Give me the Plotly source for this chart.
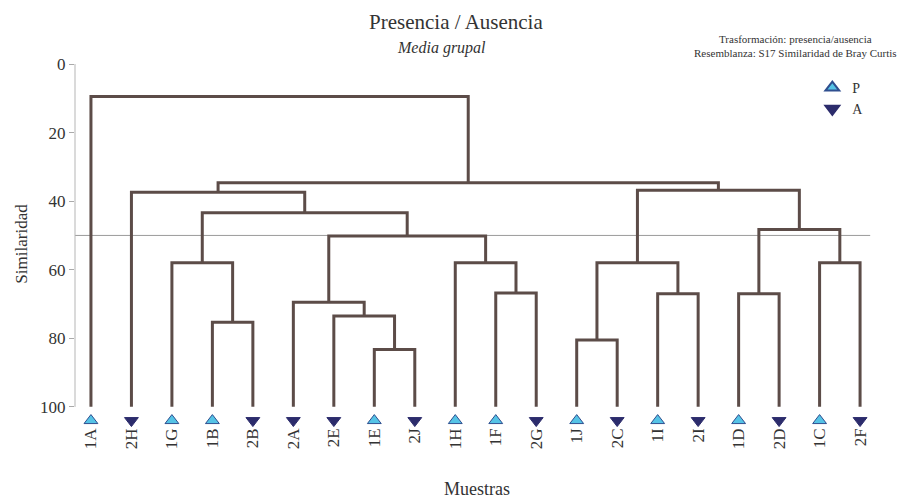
import plotly.graph_objects as go

# muestras en el orden del dendrograma
leaves = ["1A", "2H", "1G", "1B", "2B", "2A", "2E", "1E", "2J", "1H",
          "1F", "2G", "1J", "2C", "1I", "2I", "1D", "2D", "1C", "2F"]
groups = ["P", "A", "P", "P", "A", "A", "A", "P", "A", "P",
          "P", "A", "P", "A", "P", "A", "P", "A", "P", "A"]

# uniones (indices estilo scipy: hojas 0-19, grupos 20+)
merge_left = [7, 12, 3, 6, 5, 14, 16, 10, 2, 9, 21, 18, 24, 26, 28, 1, 30, 35, 0]
merge_right = [8, 13, 4, 20, 23, 15, 17, 11, 22, 27, 25, 19, 29, 31, 32, 34, 33, 36, 37]
merge_sim = [83.3, 80.5, 75.3, 73.5, 69.5, 67.0, 67.0, 66.8, 58.0, 58.0,
             58.0, 58.0, 50.2, 48.3, 43.4, 37.4, 36.8, 34.6, 9.5]

threshold = 50
y_ticks = [0, 20, 40, 60, 80, 100]

SERIF = "Liberation Serif, Times New Roman, serif"
LINE = "#5c4c48"
TXT = "#333333"

# la pagina tiene 8px de margen en el body
W, H = 914, 493
L, R, T, B = 64, 17, 56, 77
OFF = 8


def to_paper(px, py):
    # px, py en pixeles de la ventana
    return ((px - OFF - L) / (W - L - R), (H - B - (py - OFF)) / (H - T - B))


# posiciones de cada nodo
xpos = {i: float(i) for i in range(len(leaves))}
ypos = {i: 100.0 for i in range(len(leaves))}
lx, ly = [], []
for k, (a, b, h) in enumerate(zip(merge_left, merge_right, merge_sim)):
    node = len(leaves) + k
    xpos[node] = (xpos[a] + xpos[b]) / 2
    ypos[node] = h
    lx += [xpos[a], xpos[a], xpos[b], xpos[b], None]
    ly += [ypos[a], h, h, ypos[b], None]

fig = go.Figure()

fig.add_trace(go.Scatter(
    x=[-0.394, 19.25], y=[threshold, threshold], mode="lines",
    line=dict(color="#9a9a9a", width=1), showlegend=False, hoverinfo="skip"
))

fig.add_trace(go.Scatter(
    x=lx, y=ly, mode="lines",
    line=dict(color=LINE, width=3), showlegend=False, hoverinfo="skip"
))

styles = {
    "P": dict(symbol="triangle-up", color="#55c3e6", line=dict(color="#2f4f8f", width=1)),
    "A": dict(symbol="triangle-down", color="#2c2c6c", line=dict(color="#2c2c6c", width=1)),
}
for g in ["P", "A"]:
    xs = [i for i, gg in enumerate(groups) if gg == g]
    fig.add_trace(go.Scatter(
        x=xs, y=[104] * len(xs), mode="markers", name=g,
        marker=dict(size=12, **styles[g]), cliponaxis=False
    ))

lgx, lgy = to_paper(812, 72)

fig.update_layout(
    width=W, height=H,
    margin=dict(l=L, r=R, t=T, b=B),
    paper_bgcolor="white", plot_bgcolor="white",
    font=dict(family=SERIF, color=TXT),
    showlegend=True,
    legend=dict(
        x=lgx, y=lgy, xanchor="left", yanchor="top",
        font=dict(size=14, color=TXT), bgcolor="rgba(0,0,0,0)",
        tracegroupgap=0, itemsizing="constant"
    ),
    xaxis=dict(
        range=[-0.394, 20.11], tickmode="array",
        tickvals=list(range(len(leaves))), ticktext=leaves,
        tickangle=-90, ticks="", tickfont=dict(size=17, color=TXT),
        showgrid=False, zeroline=False, showline=False
    ),
    yaxis=dict(
        range=[105, 0], tickvals=y_ticks,
        ticks="outside", ticklen=5, tickcolor="#aaaaaa",
        showline=False,
        tickfont=dict(size=17, color=TXT),
        showgrid=False, zeroline=False,
        title=dict(text="Similaridad", font=dict(size=17, color=TXT), standoff=8)
    ),
    shapes=[dict(type="line", xref="paper", yref="y", x0=0, x1=0, y0=0, y1=100,
                 line=dict(color="#b5b5b5", width=1))],
)

notes = [
    ("Presencia / Ausencia", 454, 22, 21),
    ("<i>Media grupal</i>", 440, 48, 16),
    ("Trasformación: presencia/ausencia", 795, 39, 11),
    ("Resemblanza: S17 Similaridad de Bray Curtis", 795, 53, 11),
    ("Muestras", 475, 489, 18),
]
for text, px, py, size in notes:
    ax, ay = to_paper(px, py)
    fig.add_annotation(text=text, x=ax, y=ay, xref="paper", yref="paper",
                       xanchor="center", yanchor="middle", showarrow=False,
                       font=dict(size=size, color=TXT))

fig.write_html("out.html")
